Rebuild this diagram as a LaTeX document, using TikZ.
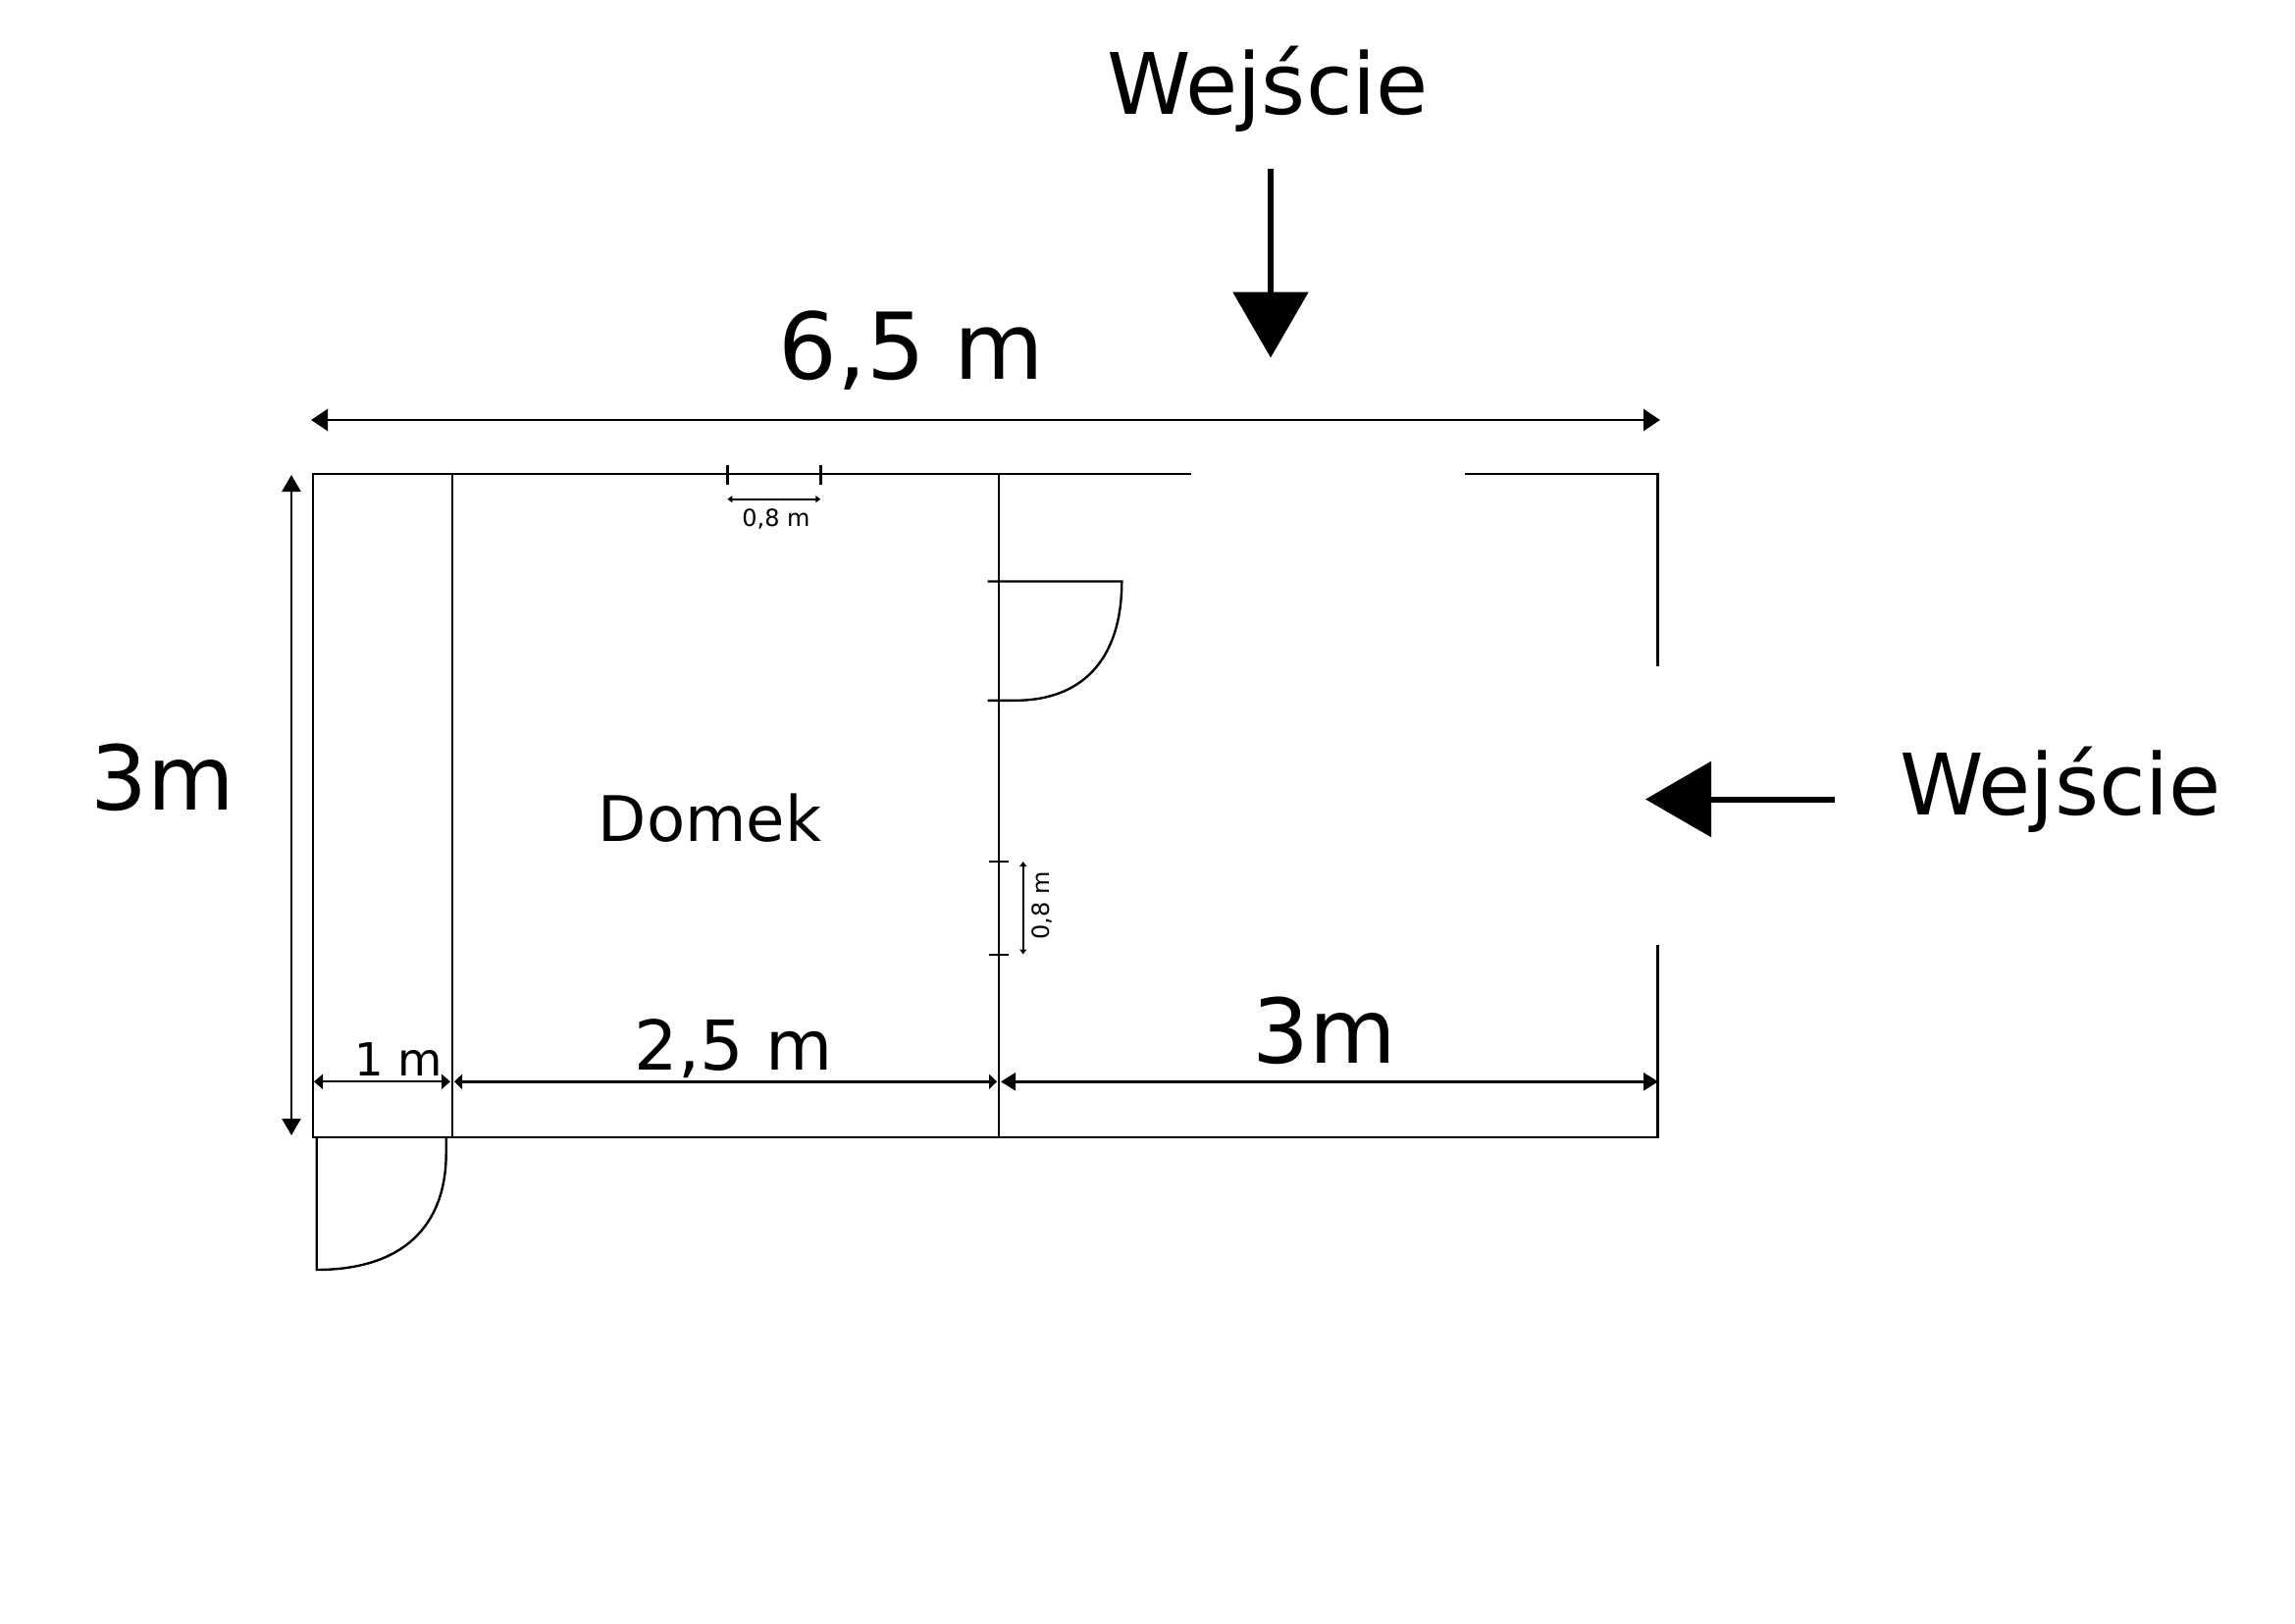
\documentclass[tikz,border=0pt]{standalone}
\usepackage{fontspec}
\setmainfont{DejaVu Sans}
\usetikzlibrary{arrows.meta}
\tikzset{
  wall/.style={line width=2.6pt,black,line cap=rect},
  thinline/.style={line width=2.4pt,black},
  dimbig/.style={line width=2.6pt,black,{Triangle[length=17pt,width=22pt]}-{Triangle[length=17pt,width=22pt]}},
  dimmid/.style={line width=2.6pt,black,{Triangle[length=17pt,width=19pt]}-{Triangle[length=17pt,width=19pt]}},
  dimsmall/.style={line width=2.2pt,black,{Triangle[length=5pt,width=7pt]}-{Triangle[length=5pt,width=7pt]}},
  bigarrow/.style={line width=6pt,black,-{Triangle[length=67pt,width=76pt]}},
  lab/.style={anchor=base,inner sep=0pt,text=black},
}
\newcommand{\fs}[1]{\fontsize{#1pt}{#1pt}\selectfont}
\begin{document}
\begin{tikzpicture}[x=1pt,y=-1pt]
\useasboundingbox[fill=white] (0,0) rectangle (2339,1654);
% corner points of the plan
\coordinate (tl) at (319,483);
\coordinate (tr) at (1689.5,483);
\coordinate (bl) at (319,1159);
\coordinate (br) at (1689.5,1159);
\coordinate (w1t) at (461,483);
\coordinate (w1b) at (461,1159);
\coordinate (w2t) at (1018,483);
\coordinate (w2b) at (1018,1159);
\coordinate (gapL) at (1213,483);
\coordinate (gapR) at (1494.5,483);
\coordinate (gapT) at (1689.5,678);
\coordinate (gapB) at (1689.5,964);
% walls
\draw[wall] (gapL) -- (tl) -- (bl) -- (br) -- (gapB);
\draw[wall] (gapR) -- (tr) -- (gapT);
\draw[wall] (w1t) -- (w1b);
\draw[wall] (w2t) -- (w2b);
% outside door
\coordinate (d1a) at (322.7,1159);
\coordinate (d1b) at (322.7,1294);
\coordinate (d1c) at (454.7,1159);
\draw[thinline] (d1c) -- ++(0,16) .. controls (454.7,1250) and (410,1294) .. (d1b) -- (d1a);
% inner door
\coordinate (d2a) at (1006.7,592.5);
\coordinate (d2b) at (1143.3,592.5);
\coordinate (d2c) at (1006.7,713.8);
\draw[thinline] (d2a) -- (d2b) .. controls (1143.3,675) and (1100,713.8) .. (1035,713.8) -- (d2c);
% window ticks top
\coordinate (t1a) at (741.4,474);
\coordinate (t1b) at (741.4,494);
\coordinate (t2a) at (836.3,474);
\coordinate (t2b) at (836.3,494);
\draw[thinline] (t1a) -- (t1b);
\draw[thinline] (t2a) -- (t2b);
\coordinate (s1a) at (741.4,508.7);
\coordinate (s1b) at (836.3,508.7);
\draw[dimsmall] (s1a) -- (s1b);
% window ticks right
\coordinate (r1a) at (1008,878.2);
\coordinate (r1b) at (1028,878.2);
\coordinate (r2a) at (1008,972.8);
\coordinate (r2b) at (1028,972.8);
\draw[thinline] (r1a) -- (r1b);
\draw[thinline] (r2a) -- (r2b);
\coordinate (s2a) at (1042.7,878);
\coordinate (s2b) at (1042.7,972.5);
\draw[dimsmall] (s2a) -- (s2b);
% dimension arrows
\coordinate (da) at (317,428);
\coordinate (db) at (1692,428);
\draw[dimbig] (da) -- (db);
\coordinate (va) at (297,484);
\coordinate (vb) at (297,1157);
\draw[dimmid] (va) -- (vb);
\coordinate (m0) at (320,1102.3);
\coordinate (m1) at (459,1102.3);
\coordinate (m2) at (463,1102.3);
\coordinate (m3) at (1016,1102.3);
\coordinate (m4) at (1020,1102.3);
\coordinate (m5) at (1690,1102.3);
\draw[line width=2.2pt,{Triangle[length=9pt,width=15pt]}-{Triangle[length=9pt,width=15pt]}] (m0) -- (m1);
\draw[line width=3.2pt,{Triangle[length=8pt,width=15pt]}-{Triangle[length=8pt,width=15pt]}] (m2) -- (m3);
\draw[line width=2.6pt,{Triangle[length=15pt,width=18pt]}-{Triangle[length=15pt,width=18pt]}] (m4) -- (m5);
% entrance arrows
\coordinate (e1a) at (1295,171.5);
\coordinate (e1b) at (1295,364.5);
\draw[bigarrow] (e1a) -- (e1b);
\coordinate (e2a) at (1870,814.5);
\coordinate (e2b) at (1677,814.5);
\draw[bigarrow] (e2a) -- (e2b);
% labels
\node[lab,font=\fs{86.5}] (lw1) at (1292,116) {Wejście};
\node[lab,font=\fs{86.5}] (lw2) at (2100,830) {Wejście};
\node[lab,font=\fs{94}] (l65) at (929,386) {6,5 m};
\node[lab,font=\fs{91}] (l3a) at (166,825) {3m};
\node[lab,font=\fs{91}] (l3b) at (1350,1083) {3m};
\node[lab,font=\fs{64}] (ldom) at (723.5,857) {Domek};
\node[lab,font=\fs{46.5}] (l1) at (406,1096) {1 m};
\node[lab,font=\fs{70}] (l25) at (747.5,1090) {2,5 m};
\node[lab,font=\fs{24}] (l08a) at (791,536) {0,8 m};
\node[lab,font=\fs{24},rotate=90] (l08b) at (1069,923) {0,8 m};
\end{tikzpicture}
\end{document}
